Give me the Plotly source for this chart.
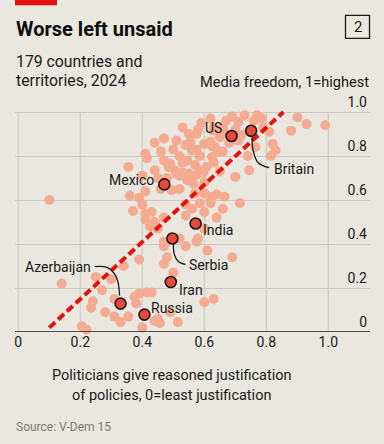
import plotly.graph_objects as go

# ---- data ----
bg_x = [0.14, 0.25, 0.30, 0.27, 0.24, 0.235, 0.28, 0.31, 0.31, 0.33, 0.205, 0.22, 0.355, 0.34, 0.39,
        0.47, 0.48, 0.47, 0.50, 0.375, 0.39, 0.415, 0.43, 0.38, 0.40, 0.44, 0.457, 0.515, 0.54, 0.575,
        0.61, 0.69, 0.60, 0.63, 0.49, 0.45,
        0.10, 0.36, 0.39, 0.41, 0.40, 0.37, 0.41, 0.41, 0.44, 0.47, 0.45, 0.425, 0.47, 0.52, 0.54, 0.56,
        0.58, 0.60, 0.60, 0.585, 0.62, 0.625, 0.60, 0.57, 0.52, 0.545, 0.565, 0.51, 0.575, 0.585, 0.53,
        0.46, 0.43, 0.64, 0.66, 0.715, 0.665, 0.64, 0.62, 0.54, 0.495,
        0.47, 0.41, 0.46, 0.50, 0.52, 0.355, 0.415, 0.44, 0.40, 0.485, 0.52, 0.56, 0.62, 0.575, 0.555,
        0.56, 0.60, 0.62, 0.635, 0.585, 0.545, 0.57, 0.49, 0.608, 0.63, 0.505, 0.597, 0.77, 0.76, 0.785,
        0.71, 0.90, 0.93, 0.99, 0.88, 0.81, 0.72, 0.765, 0.82, 0.83, 0.815, 0.63, 0.65, 0.625, 0.745,
        0.70, 0.625, 0.645, 0.55, 0.58, 0.63, 0.54, 0.575, 0.53, 0.55, 0.67, 0.69, 0.73, 0.66, 0.70,
        0.68, 0.71, 0.66, 0.60, 0.65, 0.47, 0.51, 0.45, 0.48, 0.44, 0.53, 0.59, 0.67, 0.74, 0.79]
bg_y = [0.22, 0.25, 0.24, 0.19, 0.14, 0.11, 0.09, 0.15, 0.07, 0.045, 0.026, 0.011, 0.07, 0.30, 0.33,
        0.39, 0.34, 0.31, 0.27, 0.16, 0.175, 0.18, 0.18, 0.13, 0.02, 0.05, 0.04, 0.045, 0.39, 0.41,
        0.37, 0.34, 0.135, 0.15, 0.09, 0.06,
        0.60, 0.62, 0.61, 0.64, 0.58, 0.55, 0.54, 0.51, 0.50, 0.52, 0.47, 0.48, 0.41, 0.425, 0.58, 0.56,
        0.425, 0.47, 0.545, 0.585, 0.585, 0.615, 0.63, 0.63, 0.65, 0.69, 0.675, 0.72, 0.715, 0.735, 0.725,
        0.65, 0.545, 0.52, 0.56, 0.585, 0.615, 0.625, 0.595, 0.53, 0.645,
        0.88, 0.81, 0.82, 0.83, 0.80, 0.75, 0.79, 0.735, 0.71, 0.75, 0.71, 0.70, 0.97, 0.90, 0.865,
        0.825, 0.855, 0.865, 0.84, 0.80, 0.78, 0.76, 0.765, 0.75, 0.77, 0.735, 0.725, 0.985, 0.96, 0.97,
        0.955, 0.975, 0.945, 0.94, 0.915, 0.91, 0.895, 0.84, 0.855, 0.825, 0.80, 0.915, 0.885, 0.845, 0.735,
        0.705, 0.795, 0.82, 0.90, 0.92, 0.93, 0.85, 0.83, 0.77, 0.72, 0.96, 0.98, 0.985, 0.93, 0.92,
        0.86, 0.87, 0.82, 0.68, 0.73, 0.78, 0.87, 0.70, 0.70, 0.86, 0.93, 0.95, 0.90, 0.80, 0.93]

hl_names = ["US", "Britain", "Mexico", "India", "Serbia", "Iran", "Azerbaijan", "Russia"]
hl_x = [0.688, 0.751, 0.471, 0.572, 0.497, 0.492, 0.330, 0.407]
hl_y = [0.891, 0.915, 0.671, 0.493, 0.425, 0.227, 0.129, 0.079]

trend_x = [0.10, 0.855]
trend_y = [0.02, 1.0]

tick_vals = [0, 0.2, 0.4, 0.6, 0.8, 1.0]
tick_text = ["0", "0.2", "0.4", "0.6", "0.8", "1.0"]

# ---- styling / layout constants ----
W, H = 384, 444
XR = [-0.0106, 1.1345]
YR = [0, 1.1]
ML, MR = 15, 14
Y0_PX, Y1_PX = 331.7, 111.7          # pixel rows of y=0 and y=1
PXY = (Y0_PX - Y1_PX)                 # px per unit y
MB = H - Y0_PX
MT = Y0_PX - PXY * YR[1]
PXX = (W - ML - MR) / (XR[1] - XR[0])
BG = "#E9E7DF"
INK = "#1A1A1A"
GRID = "#CBC9C1"
FONT = "Roboto"
PLOT_H = H - MT - MB

fig = go.Figure()

fig.add_trace(go.Scatter(x=bg_x, y=bg_y, mode="markers",
                         marker=dict(size=10, color="#F5AB92", line=dict(width=0)),
                         cliponaxis=False, hoverinfo="skip"))

fig.add_trace(go.Scatter(x=trend_x, y=trend_y, mode="lines",
                         line=dict(color="#E3120B", width=4, dash="8px,4px"),
                         cliponaxis=False, hoverinfo="skip"))

label_cfg = {
    "US": dict(anchor="right", dx=-8, dy=8),
    "Britain": dict(anchor="left", dx=21, dy=-38),
    "Mexico": dict(anchor="right", dx=-8, dy=4),
    "India": dict(anchor="left", dx=5, dy=-6),
    "Serbia": dict(anchor="left", dx=15, dy=-26),
    "Iran": dict(anchor="left", dx=6, dy=-8),
    "Azerbaijan": dict(anchor="right", dx=-28, dy=37),
    "Russia": dict(anchor="left", dx=5, dy=7),
}
connectors = {
    "Britain": [(1, -5), (2, -20), (7, -32), (18, -37)],
    "Serbia": [(1, -6), (2, -16), (6, -23), (13, -26)],
    "Azerbaijan": [(-26, 37), (-13, 36), (-4, 26), (-1, 8)],
}
for name, pts in connectors.items():
    i = hl_names.index(name)
    cx = [hl_x[i] + p[0] / PXX for p in pts]
    cy = [hl_y[i] + p[1] / PXY for p in pts]
    fig.add_trace(go.Scatter(x=cx, y=cy, mode="lines", line=dict(color=INK, width=1.3, shape="spline"),
                             hoverinfo="skip", cliponaxis=False))

fig.add_trace(go.Scatter(x=hl_x, y=hl_y, mode="markers",
                         marker=dict(size=11, color="#E8473A", line=dict(width=1.6, color=INK)),
                         cliponaxis=False, hoverinfo="skip"))

annotations = []
for name, x, y in zip(hl_names, hl_x, hl_y):
    c = label_cfg[name]
    annotations.append(dict(x=x, y=y, xref="x", yref="y", text=name, showarrow=False,
                            xanchor=c["anchor"], yanchor="middle", xshift=c["dx"], yshift=c["dy"],
                            font=dict(family=FONT, size=14, color=INK)))

def px(xp):
    return (xp - ML) / (W - ML - MR)

def py(yp):
    return (H - MB - yp) / PLOT_H

annotations += [
    dict(x=px(14), y=py(29), xref="paper", yref="paper", text="<b>Worse left unsaid</b>",
         showarrow=False, xanchor="left", yanchor="middle",
         font=dict(family=FONT, size=20, color="#0D0D0D")),
    dict(x=px(357.5), y=py(26.5), xref="paper", yref="paper", text="2",
         showarrow=False, xanchor="center", yanchor="middle",
         font=dict(family=FONT, size=15, color=INK)),
    dict(x=px(14), y=py(61), xref="paper", yref="paper", text="179 countries and",
         showarrow=False, xanchor="left", yanchor="middle",
         font=dict(family=FONT, size=15.8, color=INK)),
    dict(x=px(14), y=py(80), xref="paper", yref="paper", text="territories, 2024",
         showarrow=False, xanchor="left", yanchor="middle",
         font=dict(family=FONT, size=15.8, color=INK)),
    dict(x=px(371), y=py(82), xref="paper", yref="paper", text="Media freedom, 1=highest",
         showarrow=False, xanchor="right", yanchor="middle",
         font=dict(family=FONT, size=14.6, color=INK)),
    dict(x=px(171), y=py(375), xref="paper", yref="paper",
         text="Politicians give reasoned justification",
         showarrow=False, xanchor="center", yanchor="middle",
         font=dict(family=FONT, size=14.5, color=INK)),
    dict(x=px(171), y=py(395), xref="paper", yref="paper",
         text="of policies, 0=least justification",
         showarrow=False, xanchor="center", yanchor="middle",
         font=dict(family=FONT, size=14.5, color=INK)),
    dict(x=px(14), y=py(427), xref="paper", yref="paper", text="Source: V-Dem 15",
         showarrow=False, xanchor="left", yanchor="middle",
         font=dict(family=FONT, size=12, color="#7A7A7A")),
]

shapes = [
    dict(type="rect", xref="paper", yref="paper", x0=px(15), x1=px(57), y0=py(5), y1=py(-1),
         fillcolor="#E3120B", line=dict(width=0)),
    dict(type="rect", xref="paper", yref="paper", x0=px(345.5), x1=px(369.5), y0=py(38), y1=py(15),
         fillcolor="rgba(0,0,0,0)", line=dict(width=1.3, color=INK)),
]
# vertical gridlines stop at the top tick value
for v in tick_vals:
    shapes.append(dict(type="line", xref="x", yref="y", x0=v, x1=v, y0=tick_vals[0], y1=tick_vals[-1],
                       line=dict(color=GRID, width=1), layer="below"))
# x axis baseline
shapes.append(dict(type="line", xref="paper", yref="y", x0=0, x1=1, y0=0, y1=0,
                   line=dict(color=INK, width=1.6)))

fig.update_layout(
    width=W, height=H, margin=dict(l=ML, r=MR, t=MT, b=MB, pad=0),
    paper_bgcolor=BG, plot_bgcolor=BG, showlegend=False,
    font=dict(family=FONT, color=INK),
    annotations=annotations, shapes=shapes,
    xaxis=dict(range=XR, tickvals=tick_vals, ticktext=tick_text, showgrid=False,
               zeroline=False, showline=False,
               ticks="", tickfont=dict(family=FONT, size=14, color=INK), fixedrange=True),
    yaxis=dict(range=YR, tickvals=tick_vals, ticktext=tick_text, side="right",
               ticklabelposition="inside top", showgrid=True, gridcolor=GRID, gridwidth=1,
               zeroline=False, showline=False, ticks="",
               tickfont=dict(family=FONT, size=14, color=INK), fixedrange=True),
)

fig.write_html("out.html", config={"displayModeBar": False},
               post_script="document.body.style.margin='0';document.body.style.background='#E9E7DF';")
